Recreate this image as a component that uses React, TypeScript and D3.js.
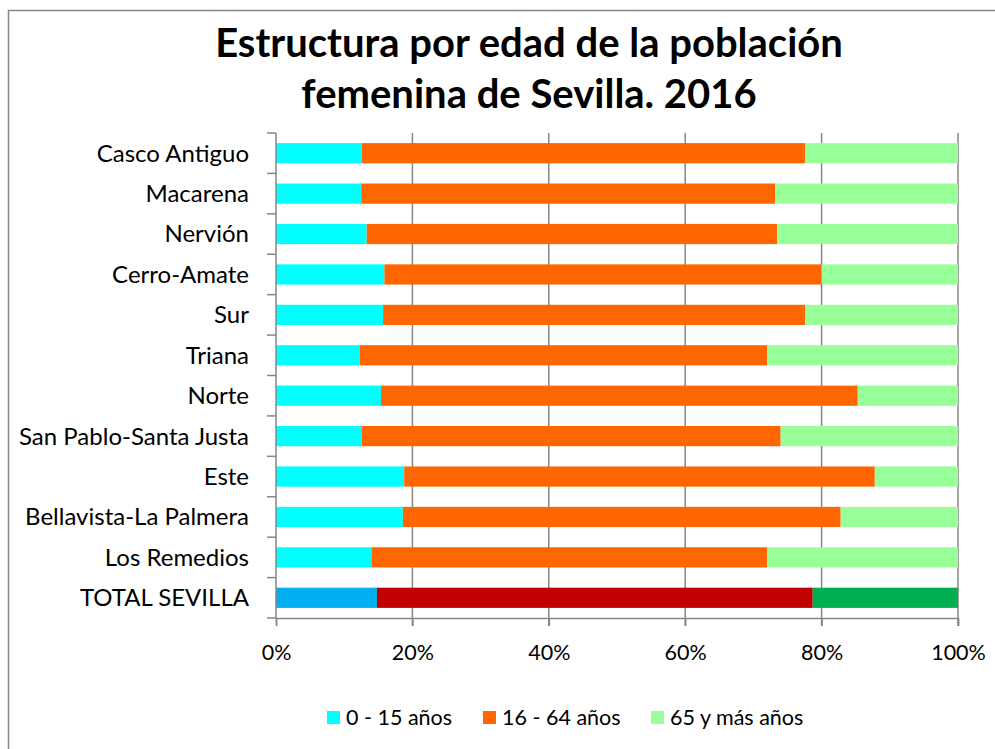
import React, { useRef, useEffect } from 'react';
import * as d3 from 'd3';

const categories = [
  'Casco Antiguo', 'Macarena', 'Nervión', 'Cerro-Amate', 'Sur', 'Triana', 'Norte',
  'San Pablo-Santa Justa', 'Este', 'Bellavista-La Palmera', 'Los Remedios', 'TOTAL SEVILLA',
];
const series = ['0 - 15 años', '16 - 64 años', '65 y más años'];
const young = [12.6, 12.5, 13.3, 15.9, 15.7, 12.3, 15.4, 12.6, 18.8, 18.6, 14.0, 14.8];
const adult = [65.0, 60.7, 60.2, 64.1, 61.9, 59.7, 69.9, 61.4, 69.0, 64.2, 58.0, 63.9];
const old = [22.4, 26.8, 26.5, 20.0, 22.4, 28.0, 14.7, 26.0, 12.2, 17.2, 28.0, 21.3];
const xTicks = [0, 20, 40, 60, 80, 100];

const colors = ['#00FFFF', '#FF6600', '#99FF99'];
const totalColors = ['#00B0F0', '#C00000', '#00B050'];

const App = () => {
  const svgRef = useRef(null);

  useEffect(() => {
    const svg = d3.select(svgRef.current);
    svg.selectAll('*').remove();

    const width = 995;
    const height = 749;
    const margin = { top: 133, right: 37, bottom: 131, left: 276 };
    const font = 'Lato, "Open Sans", sans-serif';

    svg.attr('width', width).attr('height', height);

    // chart frame
    svg.append('rect')
      .attr('x', 8.5).attr('y', 10.5)
      .attr('width', 1000).attr('height', 760)
      .attr('fill', '#fff').attr('stroke', '#868686').attr('stroke-width', 1.5);

    const rows = categories.map((c, i) => ({ cat: c, vals: [young[i], adult[i], old[i]] }));
    const stack = d3.stack().keys([0, 1, 2]).value((d, k) => d.vals[k]);
    const stacked = stack(rows);

    const x = d3.scaleLinear()
      .domain([0, 100])
      .range([margin.left, width - margin.right]);

    const y = d3.scaleBand()
      .domain(categories)
      .range([margin.top, height - margin.bottom])
      .paddingInner(0.5)
      .paddingOuter(0.25);

    const y0 = margin.top;
    const y1 = height - margin.bottom;

    // gridlines
    svg.append('g')
      .selectAll('line')
      .data(xTicks.slice(1))
      .join('line')
      .attr('x1', d => x(d)).attr('x2', d => x(d))
      .attr('y1', y0).attr('y2', y1 + 8)
      .attr('stroke', '#868686').attr('stroke-width', 1.5);

    // bars
    svg.append('g')
      .selectAll('g')
      .data(stacked)
      .join('g')
      .selectAll('rect')
      .data((s, k) => s.map(d => ({ d, k })))
      .join('rect')
      .attr('x', ({ d }) => x(d[0]))
      .attr('y', ({ d }) => y(d.data.cat))
      .attr('width', ({ d }) => x(d[1]) - x(d[0]))
      .attr('height', y.bandwidth())
      .attr('fill', ({ d, k }) => d.data.cat === 'TOTAL SEVILLA' ? totalColors[k] : colors[k]);

    // x axis
    const xAxis = svg.append('g').attr('transform', `translate(0,${y1})`);
    xAxis.call(d3.axisBottom(x).tickValues(xTicks).tickSize(8).tickFormat(d => `${d}%`));
    xAxis.select('.domain').attr('stroke', '#868686').attr('stroke-width', 1.5);
    xAxis.selectAll('.tick line').attr('stroke', '#868686').attr('stroke-width', 1.5);
    xAxis.selectAll('.tick text')
      .attr('y', 0).attr('dy', null)
      .attr('transform', 'translate(0,42)')
      .attr('font-family', font).attr('font-size', 21.5).attr('fill', '#000');

    // y axis
    const bandStep = y.step();
    const bounds = d3.range(categories.length + 1).map(i => y0 + i * bandStep);
    svg.append('line')
      .attr('x1', margin.left).attr('x2', margin.left)
      .attr('y1', y0).attr('y2', y1)
      .attr('stroke', '#868686').attr('stroke-width', 1.5);
    svg.append('g')
      .selectAll('line')
      .data(bounds)
      .join('line')
      .attr('x1', margin.left - 9).attr('x2', margin.left)
      .attr('y1', d => d).attr('y2', d => d)
      .attr('stroke', '#868686').attr('stroke-width', 1.5);
    svg.append('g')
      .selectAll('text')
      .data(categories)
      .join('text')
      .attr('x', 249)
      .attr('y', d => y(d) + y.bandwidth() / 2)
      .attr('dy', '0.35em')
      .attr('text-anchor', 'end')
      .attr('font-family', font).attr('font-size', 24).attr('fill', '#000')
      .text(d => d);

    // title
    const title = svg.append('text')
      .attr('x', 529).attr('text-anchor', 'middle')
      .attr('font-family', font).attr('font-size', 40).attr('font-weight', 'bold').attr('fill', '#000');
    title.append('tspan').attr('x', 529).attr('y', 57).text('Estructura por edad de la población');
    title.append('tspan').attr('x', 529).attr('y', 108).text('femenina de Sevilla. 2016');

    // legend
    const legendX = [327, 483, 651];
    const legend = svg.append('g')
      .selectAll('g')
      .data(series)
      .join('g')
      .attr('transform', (d, i) => `translate(${legendX[i]},711)`);
    legend.append('rect').attr('width', 13).attr('height', 13).attr('fill', (d, i) => colors[i]);
    legend.append('text')
      .attr('x', 19).attr('y', 6.5).attr('dy', '0.35em')
      .attr('font-family', font).attr('font-size', 21.5).attr('fill', '#000')
      .text(d => d);
  }, []);

  return (
    <div>
      <svg ref={svgRef} style={{ position: 'absolute', left: 0, top: 0 }}></svg>
    </div>
  );
};

export default App;
